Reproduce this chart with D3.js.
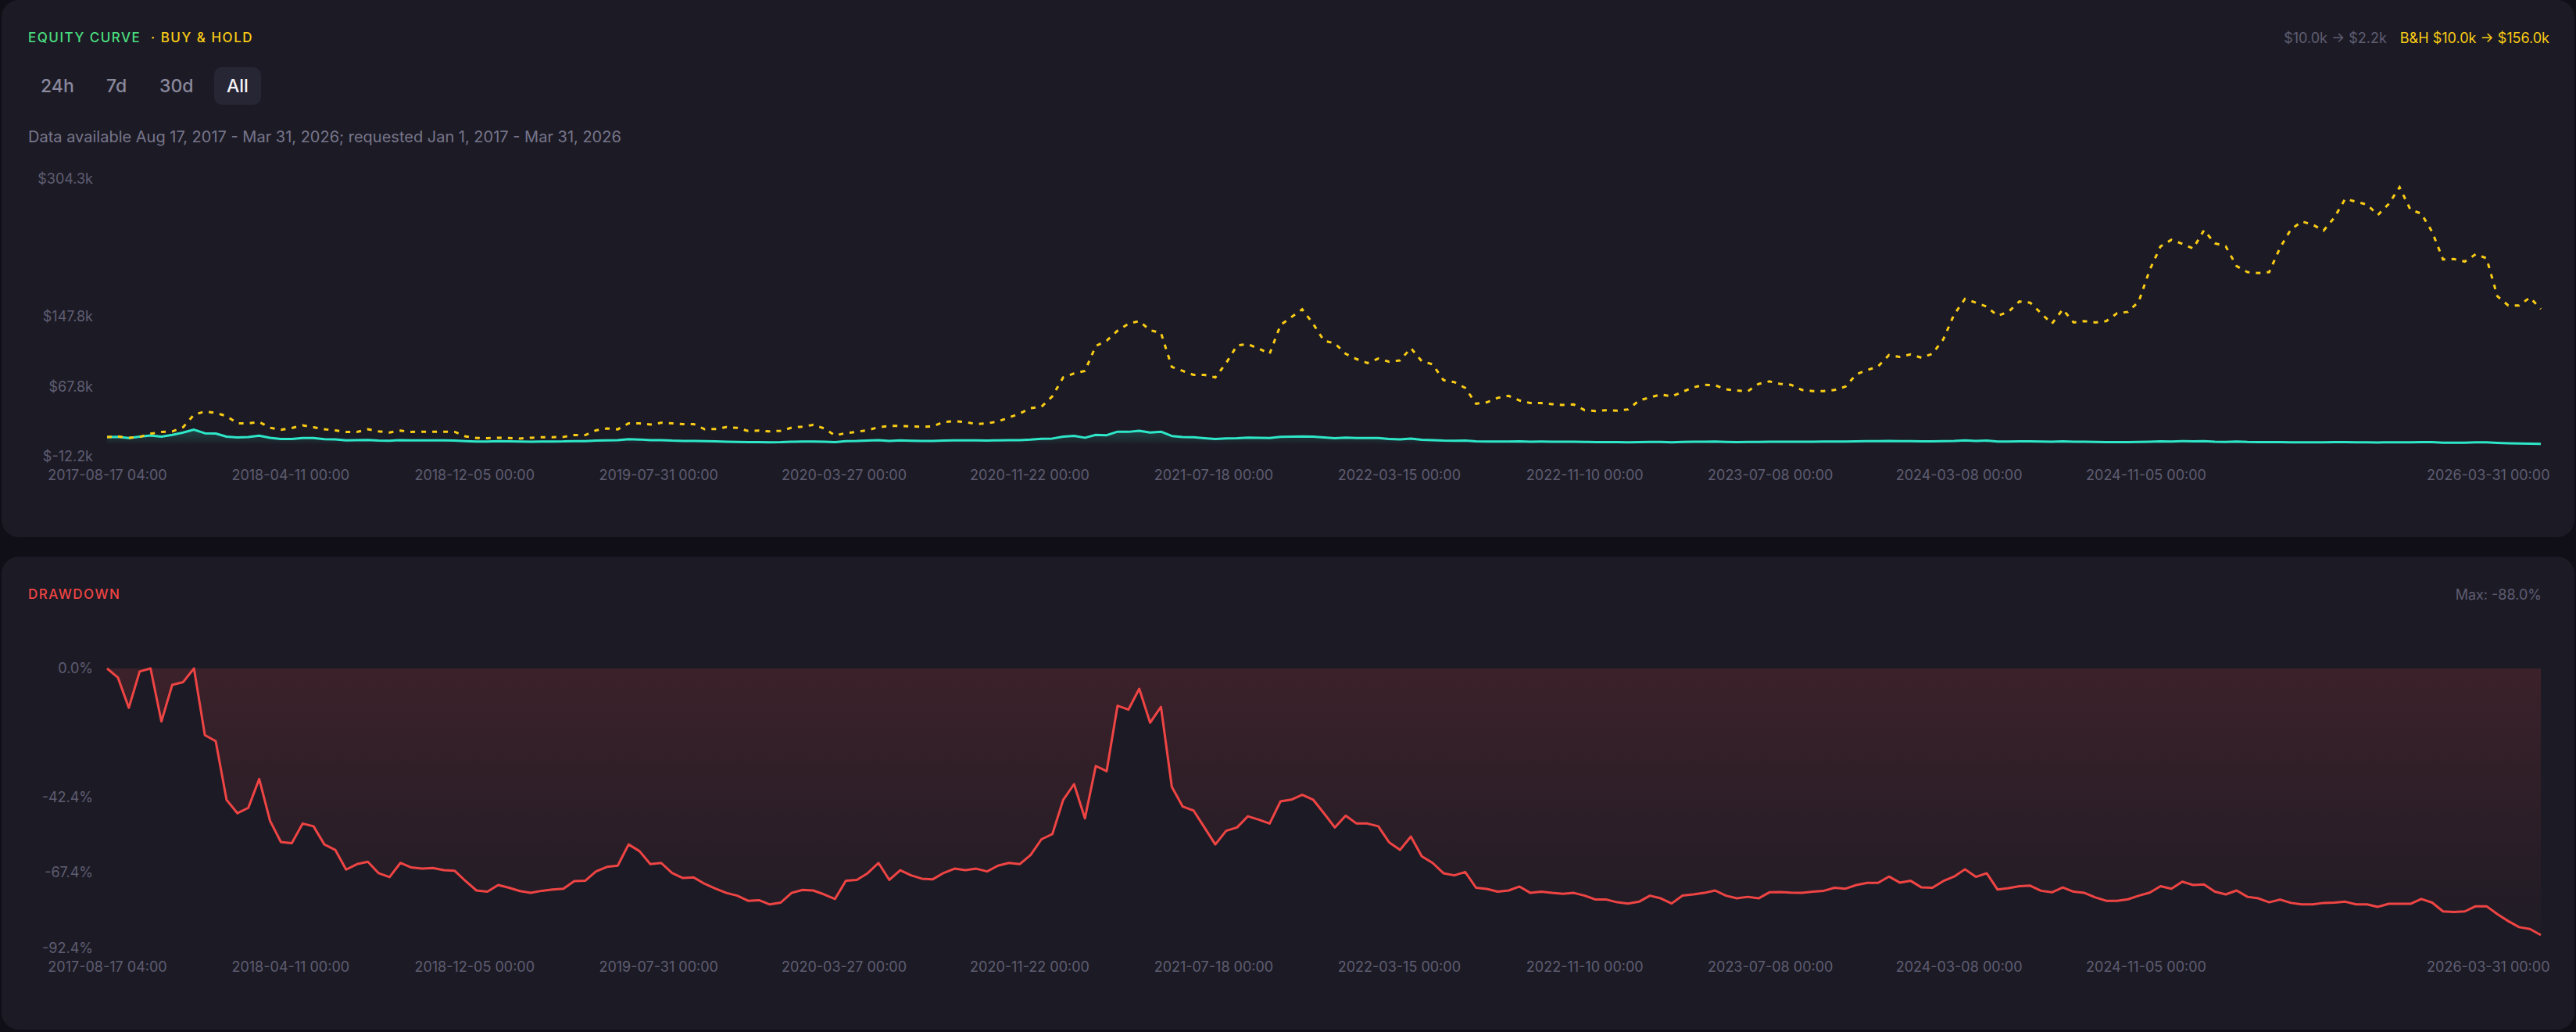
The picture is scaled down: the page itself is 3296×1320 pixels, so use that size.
<!DOCTYPE html>
<html>
<head>
<meta charset="utf-8">
<script src="https://cdn.jsdelivr.net/npm/d3@7"></script>
<style>
  body { margin: 0; background: #100f17; font-family: Inter, "Noto Sans", sans-serif; }
  svg { display: block; }
</style>
</head>
<body>
<svg id="chart"></svg>
<script>
// chart size
var svgWidth = 3296;
var svgHeight = 1320;

// time range of the backtest and the labels on the time axis
var startLabel = "2017-08-17 04:00";
var endLabel = "2026-03-31 00:00";
var xTickLabels = [
  "2017-08-17 04:00", "2018-04-11 00:00", "2018-12-05 00:00", "2019-07-31 00:00",
  "2020-03-27 00:00", "2020-11-22 00:00", "2021-07-18 00:00", "2022-03-15 00:00",
  "2022-11-10 00:00", "2023-07-08 00:00", "2024-03-08 00:00", "2024-11-05 00:00",
  "2026-03-31 00:00"
];

// y tick values ($k and %)
var equityTicks = [-12.2, 67.8, 147.8, 304.3];
var drawdownTicks = [0, -42.4, -67.4, -92.4];

var rangeButtons = ["24h", "7d", "30d", "All"];

// buy & hold equity, $k, sampled evenly over the period
var buyHold = [
  10.0, 10.8, 9.3, 10.2, 13.8, 15.9, 16.5, 21.3, 35.6, 39.2,
  37.7, 33.9, 25.7, 25.7, 27.3, 20.7, 18.3, 20.4, 23.4, 21.3,
  18.9, 17.7, 15.9, 15.9, 18.9, 16.5, 15.3, 17.4, 15.9, 16.2,
  16.2, 16.2, 15.9, 10.8, 9.0, 8.7, 9.3, 9.0, 8.4, 9.3,
  9.9, 9.9, 10.2, 12.3, 12.3, 17.7, 19.8, 18.9, 25.7, 25.7,
  24.3, 26.4, 25.7, 24.8, 24.8, 19.0, 19.3, 21.4, 20.5, 17.0,
  17.4, 16.5, 17.2, 20.7, 21.9, 24.0, 20.0, 12.0, 14.6, 16.0,
  18.0, 21.3, 22.8, 22.8, 22.2, 21.9, 22.2, 27.3, 28.1, 27.3,
  24.8, 25.7, 27.9, 32.4, 36.8, 43.1, 44.6, 56.5, 78.1, 82.6,
  85.5, 113.9, 119.9, 131.3, 139.3, 142.3, 131.9, 128.8, 90.0, 85.5,
  81.0, 81.0, 78.1, 94.5, 114.5, 116.0, 110.9, 105.0, 137.8, 146.8,
  155.7, 139.3, 119.9, 116.9, 105.0, 99.0, 94.5, 99.6, 96.0, 97.5,
  111.5, 96.6, 93.0, 75.0, 72.7, 66.1, 48.1, 49.7, 54.8, 57.1,
  51.7, 48.8, 48.8, 47.6, 46.7, 47.2, 40.7, 39.8, 40.7, 40.1,
  41.6, 51.7, 55.3, 58.6, 56.5, 61.6, 66.7, 69.7, 69.1, 64.6,
  63.1, 62.2, 70.6, 73.6, 70.6, 69.7, 63.7, 62.5, 62.5, 63.7,
  67.6, 81.7, 86.4, 90.6, 103.5, 101.4, 104.4, 100.5, 105.0, 121.4,
  149.8, 167.7, 163.3, 158.8, 148.3, 152.8, 164.7, 163.3, 151.3, 139.3,
  155.7, 140.8, 142.3, 140.8, 142.3, 151.3, 152.8, 164.7, 200.6, 227.5,
  235.0, 230.5, 225.1, 246.0, 231.0, 227.5, 205.0, 198.2, 197.0, 198.2,
  226.0, 246.9, 255.9, 252.3, 245.4, 260.4, 281.9, 278.3, 275.3, 263.3,
  275.9, 295.0, 269.3, 264.9, 244.0, 212.6, 213.1, 210.2, 218.5, 214.0,
  170.7, 160.2, 160.2, 169.2, 156.0
];

// strategy equity, $k
var strategy = [
  10.0, 10.3, 9.0, 10.6, 11.8, 10.5, 12.6, 15.2, 18.5, 14.4,
  14.1, 10.5, 9.7, 10.0, 11.7, 9.2, 7.9, 7.8, 9.0, 8.9,
  7.7, 7.4, 6.2, 6.5, 6.7, 6.0, 5.8, 6.6, 6.3, 6.3,
  6.3, 6.2, 6.1, 5.5, 4.9, 4.9, 5.3, 5.1, 4.9, 4.8,
  4.9, 5.0, 5.1, 5.5, 5.5, 6.1, 6.4, 6.5, 7.7, 7.3,
  6.5, 6.6, 6.0, 5.7, 5.7, 5.3, 5.1, 4.8, 4.6, 4.3,
  4.3, 4.1, 4.2, 4.8, 4.9, 4.9, 4.7, 4.4, 5.5, 5.6,
  6.0, 6.6, 5.6, 6.2, 5.9, 5.7, 5.6, 6.0, 6.3, 6.2,
  6.3, 6.1, 6.4, 6.6, 6.5, 7.1, 8.1, 8.4, 10.5, 11.4,
  9.3, 12.5, 12.2, 16.2, 16.0, 17.3, 15.2, 16.2, 11.3, 10.1,
  9.8, 8.8, 7.8, 8.6, 8.8, 9.5, 9.3, 9.0, 10.4, 10.5,
  10.8, 10.5, 9.7, 8.8, 9.5, 9.0, 9.0, 8.9, 7.8, 7.4,
  8.2, 7.0, 6.6, 6.0, 5.8, 6.0, 5.1, 5.0, 4.9, 4.9,
  5.2, 4.8, 4.9, 4.8, 4.7, 4.8, 4.6, 4.3, 4.3, 4.2,
  4.1, 4.3, 4.6, 4.5, 4.1, 4.6, 4.7, 4.7, 4.9, 4.6,
  4.4, 4.5, 4.5, 4.8, 4.8, 4.8, 4.7, 4.8, 4.9, 5.0,
  5.0, 5.2, 5.3, 5.3, 5.7, 5.4, 5.5, 5.1, 5.1, 5.5,
  5.7, 6.2, 5.7, 6.0, 4.9, 5.0, 5.1, 5.2, 4.9, 4.8,
  5.1, 4.8, 4.8, 4.5, 4.3, 4.3, 4.4, 4.6, 4.8, 5.1,
  5.0, 5.4, 5.2, 5.3, 4.8, 4.6, 4.9, 4.5, 4.4, 4.2,
  4.3, 4.1, 4.0, 4.0, 4.1, 4.2, 4.2, 4.0, 4.0, 3.9,
  4.1, 4.1, 4.1, 4.4, 4.2, 3.6, 3.6, 3.6, 4.0, 4.0,
  3.5, 3.0, 2.7, 2.6, 2.2
];

// strategy drawdown, %
var drawdown = [
  0, -3.0, -13.0, -1.0, 0, -17.5, -5.4, -4.5, 0, -22.0,
  -24.0, -43.4, -47.8, -46.0, -36.5, -50.3, -57.3, -57.7, -51.2, -52.1,
  -58.1, -59.9, -66.4, -64.6, -63.8, -67.6, -68.9, -64.2, -65.7, -66.1,
  -65.9, -66.6, -66.8, -70.2, -73.3, -73.7, -71.5, -72.4, -73.5, -74.1,
  -73.4, -73.0, -72.7, -70.2, -70.1, -67.0, -65.5, -65.1, -58.1, -60.3,
  -64.6, -64.2, -67.5, -69.2, -69.0, -71.1, -72.7, -74.1, -75.0, -76.7,
  -76.5, -77.9, -77.3, -74.1, -73.1, -73.3, -74.6, -76.1, -70.1, -69.8,
  -67.6, -64.2, -69.8, -66.6, -68.3, -69.4, -69.6, -67.5, -66.1, -66.6,
  -66.1, -67.0, -65.1, -64.2, -64.6, -61.6, -56.4, -54.7, -43.4, -38.2,
  -49.5, -32.2, -33.9, -12.3, -13.6, -6.7, -17.9, -12.7, -39.1, -45.6,
  -46.9, -52.5, -58.1, -53.6, -52.5, -48.8, -49.9, -51.2, -43.9, -43.3,
  -41.7, -43.3, -47.8, -52.5, -48.6, -51.2, -51.2, -52.1, -57.4, -59.9,
  -55.5, -62.0, -64.2, -67.6, -68.3, -67.2, -72.4, -72.8, -73.7, -73.3,
  -72.0, -74.1, -73.7, -74.1, -74.4, -74.1, -75.0, -76.3, -76.3, -77.2,
  -77.6, -77.0, -75.0, -75.9, -77.6, -75.0, -74.6, -74.1, -73.3, -75.0,
  -75.9, -75.4, -75.9, -73.9, -73.8, -74.0, -74.1, -73.7, -73.4, -72.4,
  -72.7, -71.5, -70.8, -70.8, -68.7, -70.7, -70.1, -72.3, -72.4, -70.2,
  -68.7, -66.3, -68.8, -67.6, -73.0, -72.5, -71.9, -71.7, -73.4, -73.9,
  -72.3, -73.7, -74.1, -75.6, -76.7, -76.7, -76.2, -75.0, -74.0, -71.9,
  -72.7, -70.4, -71.5, -71.3, -73.7, -74.6, -73.3, -75.4, -75.9, -77.2,
  -76.3, -77.4, -77.9, -77.9, -77.4, -77.3, -77.0, -77.9, -77.9, -78.7,
  -77.7, -77.7, -77.7, -76.1, -77.3, -80.2, -80.4, -80.2, -78.5, -78.5,
  -81.1, -83.4, -85.4, -86.0, -88.0
];

var colors = {
  page: "#100f17",
  panel: "#1c1b25",
  muted: "#5f5d72",
  text: "#77758b",
  green: "#4ade80",
  yellow: "#facc15",
  cyan: "#2ee6c8",
  red: "#ef4444"
};

var parseTime = d3.utcParse("%Y-%m-%d %H:%M");
var formatTime = d3.utcFormat("%Y-%m-%d %H:%M");
var t0 = parseTime(startLabel);
var t1 = parseTime(endLabel);

// samples are evenly spaced between first and last timestamp
var sampleTime = d3.scaleLinear()
  .domain([0, buyHold.length - 1])
  .range([t0.getTime(), t1.getTime()]);
var dates = buyHold.map(function(d, i) { return new Date(sampleTime(i)); });

var svg = d3.select("#chart")
  .attr("width", svgWidth)
  .attr("height", svgHeight)
  .style("background", colors.page);

// panels
svg.append("rect")
  .attr("x", 2).attr("y", 0)
  .attr("width", 3292).attr("height", 687)
  .attr("rx", 22)
  .attr("fill", colors.panel);

svg.append("rect")
  .attr("x", 2).attr("y", 712)
  .attr("width", 3292).attr("height", 605)
  .attr("rx", 22)
  .attr("fill", colors.panel);

var defs = svg.append("defs");

// scales
var x = d3.scaleUtc().domain([t0, t1]).range([137, 3251]);
var yEq = d3.scaleLinear().domain([equityTicks[0], equityTicks[equityTicks.length - 1]]).range([584, 229]);
var yDd = d3.scaleLinear().domain([drawdownTicks[0], drawdownTicks[drawdownTicks.length - 1]]).range([855, 1213]);

// ---------- header of equity panel ----------
svg.append("text")
  .attr("x", 36).attr("y", 48)
  .attr("dominant-baseline", "central")
  .attr("font-size", 17)
  .attr("font-weight", 500)
  .attr("letter-spacing", 1.5)
  .attr("fill", colors.green)
  .text("EQUITY CURVE");

svg.append("text")
  .attr("x", 193).attr("y", 48)
  .attr("dominant-baseline", "central")
  .attr("font-size", 17)
  .attr("font-weight", 500)
  .attr("letter-spacing", 1.5)
  .attr("fill", colors.yellow)
  .text("· BUY & HOLD");

var fmtK = function(v) { return "$" + v.toFixed(1) + "k"; };

var bhText = svg.append("text")
  .attr("x", 3262).attr("y", 48)
  .attr("text-anchor", "end")
  .attr("dominant-baseline", "central")
  .attr("font-size", 18)
  .attr("fill", colors.yellow)
  .text("B&H " + fmtK(buyHold[0]) + " → " + fmtK(buyHold[buyHold.length - 1]));

var bhWidth = bhText.node().getComputedTextLength();
svg.append("text")
  .attr("x", 3262 - bhWidth - 17).attr("y", 48)
  .attr("text-anchor", "end")
  .attr("dominant-baseline", "central")
  .attr("font-size", 18)
  .attr("fill", colors.muted)
  .text(fmtK(strategy[0]) + " → " + fmtK(strategy[strategy.length - 1]));

// range buttons
var buttonX = [52, 136, 204, 290];
svg.append("rect")
  .attr("x", 274).attr("y", 86)
  .attr("width", 60).attr("height", 48)
  .attr("rx", 10)
  .attr("fill", "#272635");

svg.selectAll(".range-btn")
  .data(rangeButtons)
  .enter()
  .append("text")
  .attr("class", "range-btn")
  .attr("x", function(d, i) { return buttonX[i]; })
  .attr("y", 110)
  .attr("dominant-baseline", "central")
  .attr("font-size", 23)
  .attr("font-weight", 500)
  .attr("fill", function(d) { return d == "All" ? "#f4f4f8" : "#8a889c"; })
  .text(function(d) { return d; });

svg.append("text")
  .attr("x", 36).attr("y", 175)
  .attr("dominant-baseline", "central")
  .attr("font-size", 20)
  .attr("fill", colors.text)
  .text("Data available Aug 17, 2017 - Mar 31, 2026; requested Jan 1, 2017 - Mar 31, 2026");

// ---------- equity chart ----------
var sMin = d3.min(strategy);
var sMax = d3.max(strategy);

var cyanGrad = defs.append("linearGradient")
  .attr("id", "cyanFill")
  .attr("gradientUnits", "userSpaceOnUse")
  .attr("x1", 0).attr("x2", 0)
  .attr("y1", yEq(sMax)).attr("y2", yEq(sMin));
cyanGrad.append("stop").attr("offset", 0).attr("stop-color", colors.cyan).attr("stop-opacity", 0.2);
cyanGrad.append("stop").attr("offset", 1).attr("stop-color", colors.cyan).attr("stop-opacity", 0.02);

var strategyArea = d3.area()
  .x(function(d, i) { return x(dates[i]); })
  .y0(yEq(sMin))
  .y1(function(d) { return yEq(d); });

var eqLine = d3.line()
  .x(function(d, i) { return x(dates[i]); })
  .y(function(d) { return yEq(d); });

svg.append("path")
  .datum(strategy)
  .attr("d", strategyArea)
  .attr("fill", "url(#cyanFill)");

svg.append("path")
  .datum(strategy)
  .attr("d", eqLine)
  .attr("fill", "none")
  .attr("stroke", colors.cyan)
  .attr("stroke-width", 3)
  .attr("stroke-linejoin", "round");

svg.append("path")
  .datum(buyHold)
  .attr("d", eqLine)
  .attr("fill", "none")
  .attr("stroke", colors.yellow)
  .attr("stroke-width", 3)
  .attr("stroke-dasharray", "6,8");

// axes
var xTicks = xTickLabels.map(parseTime);

function styleXAxis(g) {
  g.select(".domain").remove();
  g.selectAll("text")
    .attr("font-size", 18)
    .attr("font-family", "Inter, sans-serif")
    .attr("fill", colors.muted);
  g.selectAll(".tick:last-of-type text")
    .attr("text-anchor", "end")
    .attr("x", 11);
}

function styleYAxis(g) {
  g.select(".domain").remove();
  g.selectAll("text")
    .attr("font-size", 18)
    .attr("font-family", "Inter, sans-serif")
    .attr("fill", colors.muted);
}

svg.append("g")
  .attr("transform", "translate(0,584)")
  .call(d3.axisBottom(x).tickValues(xTicks).tickFormat(formatTime).tickSize(0).tickPadding(17))
  .call(styleXAxis);

svg.append("g")
  .attr("transform", "translate(137,0)")
  .call(d3.axisLeft(yEq).tickValues(equityTicks).tickFormat(fmtK).tickSize(0).tickPadding(18))
  .call(styleYAxis);

// ---------- drawdown panel ----------
svg.append("text")
  .attr("x", 36).attr("y", 760)
  .attr("dominant-baseline", "central")
  .attr("font-size", 17)
  .attr("font-weight", 500)
  .attr("letter-spacing", 1.5)
  .attr("fill", colors.red)
  .text("DRAWDOWN");

svg.append("text")
  .attr("x", 3252).attr("y", 760)
  .attr("text-anchor", "end")
  .attr("dominant-baseline", "central")
  .attr("font-size", 18)
  .attr("fill", colors.muted)
  .text("Max: " + d3.min(drawdown).toFixed(1) + "%");

var redGrad = defs.append("linearGradient")
  .attr("id", "redFill")
  .attr("gradientUnits", "userSpaceOnUse")
  .attr("x1", 0).attr("x2", 0)
  .attr("y1", yDd(0)).attr("y2", yDd(drawdownTicks[drawdownTicks.length - 1]));
redGrad.append("stop").attr("offset", 0).attr("stop-color", colors.red).attr("stop-opacity", 0.15);
redGrad.append("stop").attr("offset", 1).attr("stop-color", colors.red).attr("stop-opacity", 0.01);

var ddArea = d3.area()
  .x(function(d, i) { return x(dates[i]); })
  .y0(yDd(0))
  .y1(function(d) { return yDd(d); });

var ddLine = d3.line()
  .x(function(d, i) { return x(dates[i]); })
  .y(function(d) { return yDd(d); });

svg.append("path")
  .datum(drawdown)
  .attr("d", ddArea)
  .attr("fill", "url(#redFill)");

svg.append("path")
  .datum(drawdown)
  .attr("d", ddLine)
  .attr("fill", "none")
  .attr("stroke", colors.red)
  .attr("stroke-width", 3)
  .attr("stroke-linejoin", "round");

svg.append("g")
  .attr("transform", "translate(0,1213)")
  .call(d3.axisBottom(x).tickValues(xTicks).tickFormat(formatTime).tickSize(0).tickPadding(17))
  .call(styleXAxis);

svg.append("g")
  .attr("transform", "translate(137,0)")
  .call(d3.axisLeft(yDd).tickValues(drawdownTicks).tickFormat(function(v) { return v.toFixed(1) + "%"; }).tickSize(0).tickPadding(18))
  .call(styleYAxis);
</script>
</body>
</html>
